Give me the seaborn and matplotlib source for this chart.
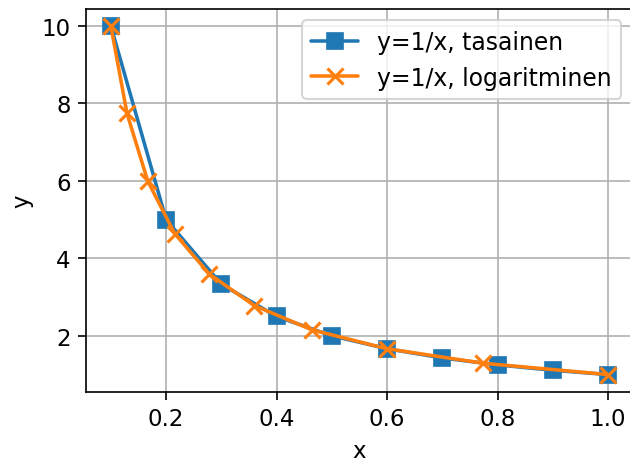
import matplotlib
matplotlib.use("Agg")
import matplotlib.pyplot as plt
import seaborn as sns

# uniform sampling
x_uniform = [0.1, 0.2, 0.3, 0.4, 0.5, 0.6, 0.7, 0.8, 0.9, 1.0]
y_uniform = [10.0, 5.0, 3.333, 2.5, 2.0, 1.667, 1.429, 1.25, 1.111, 1.0]
# logarithmic sampling
x_log = [0.1, 0.1292, 0.1668, 0.2154, 0.2783, 0.3594, 0.4642, 0.5995, 0.7743, 1.0]
y_log = [10.0, 7.743, 5.995, 4.642, 3.594, 2.783, 2.154, 1.668, 1.292, 1.0]
labels = ["y=1/x, tasainen", "y=1/x, logaritminen"]

sns.set_style("ticks")
plt.rcParams["font.family"] = ["DejaVu Sans"]
plt.rcParams["font.size"] = 11
plt.rcParams["text.color"] = "black"
plt.rcParams["axes.labelcolor"] = "black"

dpi = 150
fig = plt.figure(figsize=(630 / dpi, 463 / dpi), dpi=dpi)
ax = fig.add_axes([86 / 630, (463 - 393) / 463, 547 / 630, 383.4 / 463])

blue = "#1f77b4"
orange = "#ff7f0e"
sns.lineplot(x=x_uniform, y=y_uniform, ax=ax, color=blue, marker="s",
             markersize=7.5, markeredgecolor=blue, markeredgewidth=0.8,
             linewidth=1.7, label=labels[0])
sns.lineplot(x=x_log, y=y_log, ax=ax, color=orange, marker="x",
             markersize=7.5, markeredgecolor=orange, markeredgewidth=1.5,
             linewidth=1.7, label=labels[1])

ax.set_xlabel("x", fontsize=11, color="black")
ax.set_ylabel("y", fontsize=11, color="black")
ax.grid(True, color="#b0b0b0", linewidth=0.8)
ax.set_yticks([2, 4, 6, 8, 10])
ax.set_xticks([0.2, 0.4, 0.6, 0.8, 1.0])
for s in ax.spines.values():
    s.set_linewidth(0.8)
    s.set_color("black")
ax.tick_params(direction="out", length=3.8, width=0.8, colors="black",
               labelsize=11)
leg = ax.legend(loc="upper right", frameon=True, framealpha=0.8,
                edgecolor="#cccccc", fontsize=11.3)
for t in leg.get_texts():
    t.set_color("black")

fig.savefig("out.png", dpi=dpi)
